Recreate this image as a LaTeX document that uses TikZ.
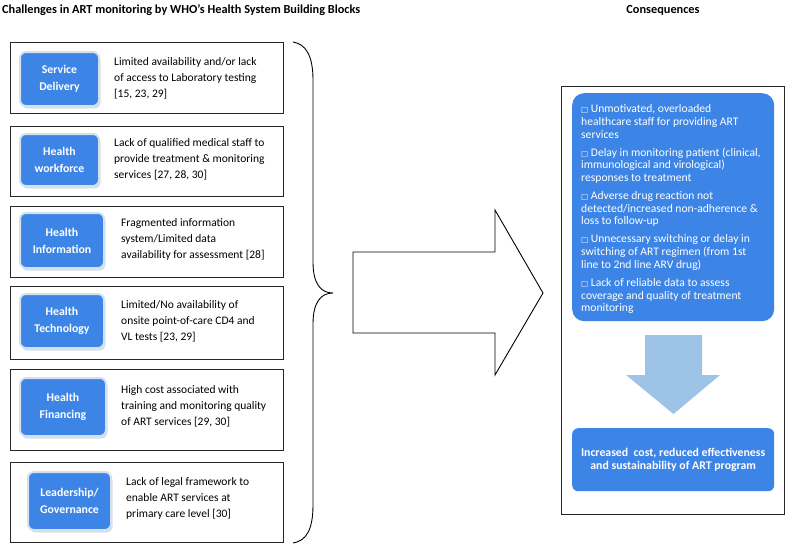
\documentclass[tikz,border=0pt]{standalone}
\usepackage{fontspec}
\setmainfont{Carlito}
\newfontfamily\symfont{DejaVu Sans}
\definecolor{blockblue}{RGB}{60,133,230}
\definecolor{arrowblue}{RGB}{157,195,230}
\definecolor{bevel}{RGB}{212,224,236}
\newcommand{\bx}{{\symfont\fontsize{7.5}{7.5}\selectfont □}}

\tikzset{
  outerbox/.style={draw=black!85, line width=0.9pt, anchor=north west, inner sep=0pt},
  blockbox/.style={fill=blockblue, draw=bevel, line width=2pt, rounded corners=6pt,
    preaction={fill=bevel, transform canvas={shift={(1.5pt,-2.5pt)}}},
    anchor=north west, text=white, align=center, inner sep=0pt,
    font=\fontsize{11.8}{17}\selectfont\bfseries},
  blocktext/.style={anchor=west, align=left, inner sep=0pt,
    font=\fontsize{11.5}{16}\selectfont},
  headtext/.style={inner sep=0pt, font=\fontsize{12.3}{14}\selectfont\bfseries}
}

\begin{document}
\begin{tikzpicture}[x=1pt,y=-1pt]
\useasboundingbox (0,0) rectangle (785,544);

\node[headtext, anchor=west] (lefthead) at (2,10) {Challenges in ART monitoring by WHO’s Health System Building Blocks};
\node[headtext] (righthead) at (663,10) {Consequences};

\node[outerbox, minimum width=273pt, minimum height=71pt] (sdbox) at (10,42) {};
\node[blockbox, minimum width=79pt, minimum height=54pt] (sdlab) at (19,51) {Service\\Delivery};
\node[blocktext] (sdtxt) at (114,78) {Limited availability and/or lack\\of access to Laboratory testing\\{[15, 23, 29]}};

\node[outerbox, minimum width=273pt, minimum height=70pt] (hwbox) at (10,126) {};
\node[blockbox, minimum width=79pt, minimum height=52pt] (hwlab) at (19,133) {Health\\workforce};
\node[blocktext] (hwtxt) at (114,159) {Lack of qualified medical staff to\\provide treatment \& monitoring\\services [27, 28, 30]};

\node[outerbox, minimum width=273pt, minimum height=71pt] (hibox) at (10,206) {};
\node[blockbox, minimum width=84pt, minimum height=55pt] (hilab) at (19,212) {Health\\Information};
\node[blocktext] (hitxt) at (121,239) {Fragmented information\\system/Limited data\\availability for assessment [28]};

\node[outerbox, minimum width=273pt, minimum height=73pt] (htbox) at (10,286) {};
\node[blockbox, minimum width=84pt, minimum height=54pt] (htlab) at (19,293) {Health\\Technology};
\node[blocktext] (httxt) at (121,321) {Limited/No availability of\\onsite point-of-care CD4 and\\VL tests [23, 29]};

\node[outerbox, minimum width=273pt, minimum height=81pt] (hfbox) at (10,369) {};
\node[blockbox, minimum width=86pt, minimum height=58pt] (hflab) at (19,377) {Health\\Financing};
\node[blocktext] (hftxt) at (121,406) {High cost associated with\\training and monitoring quality\\of ART services [29, 30]};

\node[outerbox, minimum width=273pt, minimum height=80pt] (lgbox) at (10,462) {};
\node[blockbox, minimum width=83pt, minimum height=58pt] (lglab) at (27,471) {Leadership/\\Governance};
\node[blocktext] (lgtxt) at (126,498) {Lack of legal framework to\\enable ART services at\\primary care level [30]};

\draw[line width=0.9pt] (293,42) .. controls (306,44) and (313,56) .. (313,80) -- (313,262)
  .. controls (313,284) and (321,293) .. (333,293)
  .. controls (321,293) and (313,302) .. (313,324) -- (313,505)
  .. controls (313,530) and (306,541) .. (293,543);

\draw[line width=0.9pt, fill=white] (353,252) -- (495,252) -- (495,210) -- (543,293)
  -- (495,375) -- (495,333) -- (353,333) -- cycle;

\node[outerbox, minimum width=223pt, minimum height=428pt] (conbox) at (561,86) {};
\node[anchor=north west, fill=blockblue, rounded corners=12pt, inner sep=0pt,
  minimum width=202pt, minimum height=228pt] (conblue) at (572,93) {};
\node[anchor=north west, inner sep=0pt, text=white, align=left,
  font=\fontsize{11.6}{12.7}\selectfont] (conlist) at (581,104.5)
  {\bx\ Unmotivated, overloaded\\healthcare staff for providing ART\\services\\[5.3pt]
   \bx\ Delay in monitoring patient (clinical,\\immunological and virological)\\responses to treatment\\[5.3pt]
   \bx\ Adverse drug reaction not\\detected/increased non-adherence \&\\loss to follow-up\\[5.3pt]
   \bx\ Unnecessary switching or delay in\\switching of ART regimen (from 1st\\line to 2nd line ARV drug)\\[5.3pt]
   \bx\ Lack of reliable data to assess\\coverage and quality of treatment\\monitoring};

\fill[arrowblue] (645,335) -- (702,335) -- (702,375) -- (720,375) -- (673.5,414)
  -- (626,375) -- (645,375) -- cycle;

\node[anchor=north west, fill=blockblue, rounded corners=6pt, inner sep=0pt,
  minimum width=202pt, minimum height=63pt, text=white, align=center,
  font=\fontsize{11.8}{13}\selectfont\bfseries] (outcome) at (572,428)
  {Increased\ \ cost, reduced effectiveness\\and sustainability of ART program};
\end{tikzpicture}
\end{document}
